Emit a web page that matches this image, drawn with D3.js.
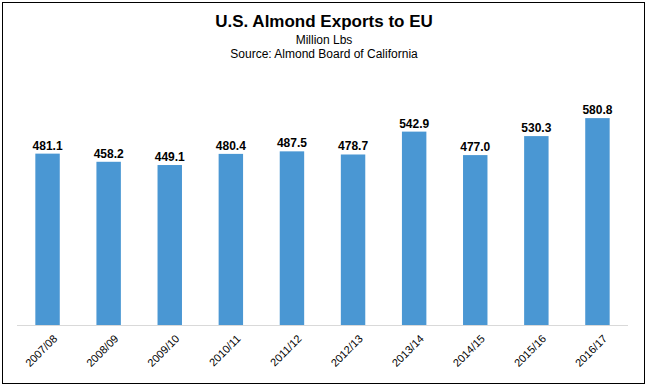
<!DOCTYPE html>
<html>
<head>
<meta charset="utf-8">
<script src="https://cdn.jsdelivr.net/npm/d3@7"></script>
<style>
  body { margin: 0; background: #fff; }
  svg { display: block; font-family: Arial, "Liberation Sans", sans-serif; }
</style>
</head>
<body>
<svg id="chart" width="648" height="388"></svg>
<script>
// Data
const seasons = ['2007/08', '2008/09', '2009/10', '2010/11', '2011/12', '2012/13', '2013/14', '2014/15', '2015/16', '2016/17']
const exportsEU = [481.1, 458.2, 449.1, 480.4, 487.5, 478.7, 542.9, 477.0, 530.3, 580.8]

const svg = d3.select('#chart')

// Outer frame
svg.append('rect')
    .attr('x', 2.5).attr('y', 2.5)
    .attr('width', 642).attr('height', 381)
    .attr('fill', 'none')
    .attr('stroke', '#000')
    .attr('stroke-width', 1)

// Titles
svg.append('text')
    .attr('x', 324).attr('y', 27)
    .attr('text-anchor', 'middle')
    .style('font-size', '17px').style('font-weight', 'bold')
    .text('U.S. Almond Exports to EU')

svg.append('text')
    .attr('x', 324).attr('y', 44)
    .attr('text-anchor', 'middle')
    .style('font-size', '12px')
    .text('Million Lbs')

svg.append('text')
    .attr('x', 324).attr('y', 58)
    .attr('text-anchor', 'middle')
    .style('font-size', '12px')
    .text('Source: Almond Board of California')

// Scales
const plotLeft = 17, plotRight = 628, baseline = 325
const x = d3.scaleBand()
    .domain(seasons)
    .range([plotLeft, plotRight])
    .paddingInner(0.6)
    .paddingOuter(0.3)

const y = d3.scaleLinear()
    .domain([0, 700])
    .range([baseline, baseline - 700 * 0.3562])

// Bars
svg.selectAll('rect.bar')
    .data(exportsEU)
    .enter()
    .append('rect')
    .classed('bar', true)
    .attr('x', (_, i) => x(seasons[i]))
    .attr('y', d => y(d))
    .attr('width', x.bandwidth())
    .attr('height', d => y(0) - y(d))
    .attr('fill', '#4a97d3')

// Value labels
svg.selectAll('text.value')
    .data(exportsEU)
    .enter()
    .append('text')
    .classed('value', true)
    .attr('x', (_, i) => x(seasons[i]) + x.bandwidth() / 2)
    .attr('y', d => y(d) - 4)
    .attr('text-anchor', 'middle')
    .style('font-size', '12px').style('font-weight', 'bold')
    .text(d => d.toFixed(1))

// Baseline
svg.append('line')
    .attr('x1', plotLeft).attr('x2', plotRight)
    .attr('y1', baseline + 0.5).attr('y2', baseline + 0.5)
    .attr('stroke', '#d9d9d9')
    .attr('stroke-width', 1)

// Category labels (rotated)
svg.selectAll('text.cat')
    .data(seasons)
    .enter()
    .append('text')
    .classed('cat', true)
    .attr('transform', d => 'translate(' + (x(d) + x.bandwidth() / 2 + 5) + ',' + (baseline + 9) + ') rotate(-45)')
    .attr('text-anchor', 'end')
    .attr('dy', '0.7em')
    .style('font-size', '11px')
    .attr('fill', '#000')
    .text(d => d)
</script>
</body>
</html>
